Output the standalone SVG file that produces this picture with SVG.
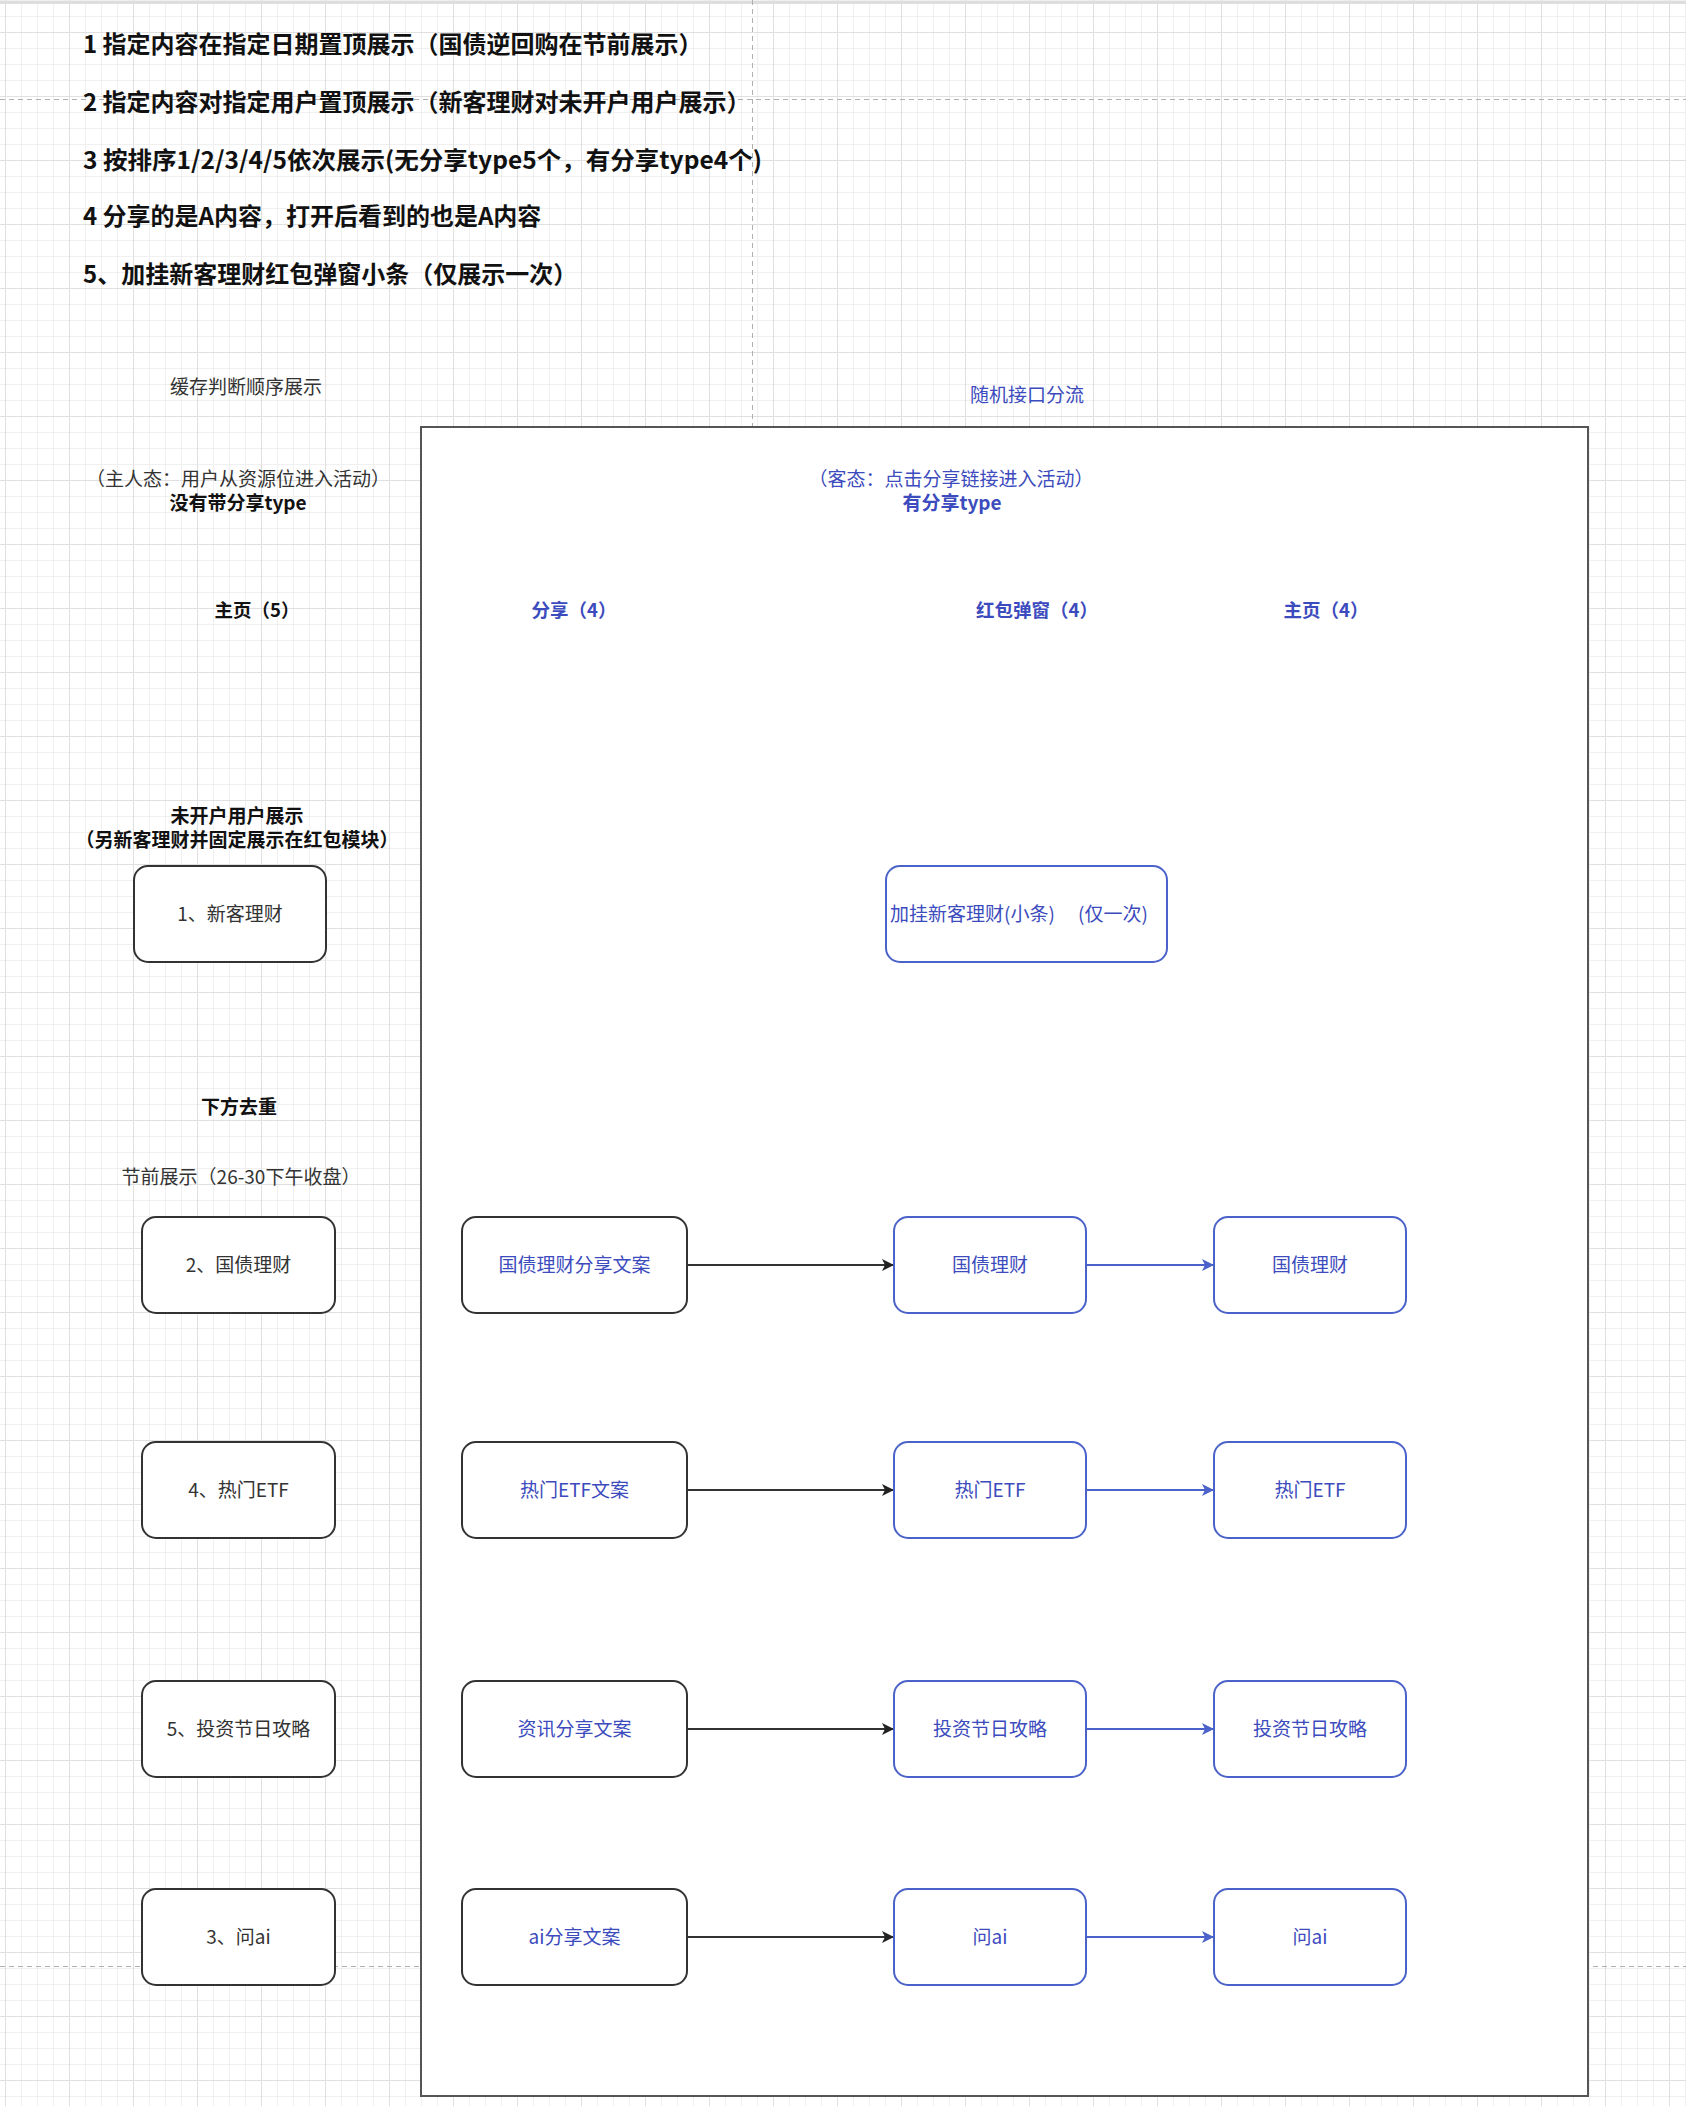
<svg xmlns="http://www.w3.org/2000/svg" width="1686" height="2106" viewBox="0 0 1686 2106">
<defs>
<pattern id="gMinor" x="5" y="0" width="16" height="16" patternUnits="userSpaceOnUse">
<path d="M0 0.5 H16 M0.5 0 V16" fill="none" stroke="#f0f0f0" stroke-width="1"/>
</pattern>
<pattern id="gMajor" x="5" y="32" width="64" height="64" patternUnits="userSpaceOnUse">
<path d="M0 0.5 H64 M0.5 0 V64" fill="none" stroke="#e0e0e0" stroke-width="1"/>
</pattern>
<marker id="arrK" viewBox="0 0 12 12" refX="11" refY="6" markerWidth="12" markerHeight="12" markerUnits="userSpaceOnUse" orient="auto">
<path d="M0 0 L12 6 L0 12 L3 6 Z" fill="#222"/>
</marker>
<marker id="arrB" viewBox="0 0 12 12" refX="11" refY="6" markerWidth="12" markerHeight="12" markerUnits="userSpaceOnUse" orient="auto">
<path d="M0 0 L12 6 L0 12 L3 6 Z" fill="#4a62c9"/>
</marker>
</defs>
<style>
text{font-family:"Noto Sans CJK SC","Noto Sans",sans-serif;dominant-baseline:central}
.t{font-size:24px;font-weight:700;fill:#111}
.s{font-size:19px;fill:#333;text-anchor:middle}
.sb{font-size:19px;font-weight:700;fill:#111;text-anchor:middle}
.h{font-size:18.5px;font-weight:700;fill:#111;text-anchor:middle}
.blue{fill:#3c4bbd}
.nk{fill:#fff;stroke:#333;stroke-width:2}
.nb{fill:#fff;stroke:#4a62c9;stroke-width:2}
.ek{stroke:#333;stroke-width:2;fill:none;marker-end:url(#arrK)}
.eb{stroke:#4a62c9;stroke-width:2;fill:none;marker-end:url(#arrB)}
.dash{stroke:#b0b0b0;stroke-width:1;stroke-dasharray:5 4;fill:none}
</style>
<rect width="1686" height="2106" fill="#fff"/>
<rect width="1686" height="2106" fill="url(#gMinor)"/>
<rect width="1686" height="2106" fill="url(#gMajor)"/>
<line x1="0" y1="2.5" x2="1686" y2="2.5" stroke="#dedede" stroke-width="3"/>
<g id="page-breaks">
<line class="dash" x1="0" y1="99.5" x2="1686" y2="99.5"/>
<line class="dash" x1="752.5" y1="0" x2="752.5" y2="427"/>
<line class="dash" x1="0" y1="1966.5" x2="1686" y2="1966.5"/>
</g>
<g id="notes">
<text class="t" x="83" y="42">1 指定内容在指定日期置顶展示（国债逆回购在节前展示）</text>
<text class="t" x="83" y="100">2 指定内容对指定用户置顶展示（新客理财对未开户用户展示）</text>
<text class="t" x="83" y="158" textLength="679" lengthAdjust="spacingAndGlyphs">3 按排序1/2/3/4/5依次展示(无分享type5个，有分享type4个)</text>
<text class="t" x="83" y="214">4 分享的是A内容，打开后看到的也是A内容</text>
<text class="t" x="83" y="272">5、加挂新客理财红包弹窗小条（仅展示一次）</text>
</g>
<g id="guest-container">
<rect x="421" y="427" width="1167" height="1669" fill="#fff" stroke="#555" stroke-width="2"/>
</g>
<g id="labels">
<text class="s" x="246" y="385">缓存判断顺序展示</text>
<text class="s blue" x="1027" y="393">随机接口分流</text>
<text class="s" x="238" y="477">（主人态：用户从资源位进入活动）</text>
<text class="sb" x="238" y="501">没有带分享type</text>
<text class="s blue" x="951" y="477">（客态：点击分享链接进入活动）</text>
<text class="sb blue" x="952" y="501">有分享type</text>
<text class="h" x="257" y="609">主页（5）</text>
<text class="h blue" x="574" y="609">分享（4）</text>
<text class="h blue" x="1037" y="609">红包弹窗（4）</text>
<text class="h blue" x="1326" y="609">主页（4）</text>
<text class="sb" x="237" y="814">未开户用户展示</text>
<text class="sb" x="237" y="838">（另新客理财并固定展示在红包模块）</text>
<text class="sb" x="239" y="1105">下方去重</text>
<text class="s" x="241" y="1175">节前展示（26-30下午收盘）</text>
</g>
<g id="edges">
<line class="ek" x1="687" y1="1265" x2="893" y2="1265"/>
<line class="ek" x1="687" y1="1490" x2="893" y2="1490"/>
<line class="ek" x1="687" y1="1729" x2="893" y2="1729"/>
<line class="ek" x1="687" y1="1937" x2="893" y2="1937"/>
<line class="eb" x1="1086" y1="1265" x2="1213" y2="1265"/>
<line class="eb" x1="1086" y1="1490" x2="1213" y2="1490"/>
<line class="eb" x1="1086" y1="1729" x2="1213" y2="1729"/>
<line class="eb" x1="1086" y1="1937" x2="1213" y2="1937"/>
</g>
<g id="n-new">
<rect class="nk" x="134" y="866" width="192" height="96" rx="14"/>
<text class="s" x="230" y="912">1、新客理财</text>
</g>
<g id="n-new-strip">
<rect class="nb" x="886" y="866" width="281" height="96" rx="14"/>
<text class="s blue" x="1019" y="912">加挂新客理财(小条)　 (仅一次)</text>
</g>
<g id="n-home-bond">
<rect class="nk" x="142" y="1217" width="193" height="96" rx="14"/>
<text class="s" x="238.5" y="1263">2、国债理财</text>
</g>
<g id="n-home-etf">
<rect class="nk" x="142" y="1442" width="193" height="96" rx="14"/>
<text class="s" x="238.5" y="1488">4、热门ETF</text>
</g>
<g id="n-home-guide">
<rect class="nk" x="142" y="1681" width="193" height="96" rx="14"/>
<text class="s" x="238.5" y="1727">5、投资节日攻略</text>
</g>
<g id="n-home-ai">
<rect class="nk" x="142" y="1889" width="193" height="96" rx="14"/>
<text class="s" x="238.5" y="1935">3、问ai</text>
</g>
<g id="n-share-bond">
<rect class="nk" x="462" y="1217" width="225" height="96" rx="14"/>
<text class="s blue" x="574.5" y="1263">国债理财分享文案</text>
</g>
<g id="n-share-etf">
<rect class="nk" x="462" y="1442" width="225" height="96" rx="14"/>
<text class="s blue" x="574.5" y="1488">热门ETF文案</text>
</g>
<g id="n-share-news">
<rect class="nk" x="462" y="1681" width="225" height="96" rx="14"/>
<text class="s blue" x="574.5" y="1727">资讯分享文案</text>
</g>
<g id="n-share-ai">
<rect class="nk" x="462" y="1889" width="225" height="96" rx="14"/>
<text class="s blue" x="574.5" y="1935">ai分享文案</text>
</g>
<g id="n-pop-bond">
<rect class="nb" x="894" y="1217" width="192" height="96" rx="14"/>
<text class="s blue" x="990" y="1263">国债理财</text>
</g>
<g id="n-pop-etf">
<rect class="nb" x="894" y="1442" width="192" height="96" rx="14"/>
<text class="s blue" x="990" y="1488">热门ETF</text>
</g>
<g id="n-pop-guide">
<rect class="nb" x="894" y="1681" width="192" height="96" rx="14"/>
<text class="s blue" x="990" y="1727">投资节日攻略</text>
</g>
<g id="n-pop-ai">
<rect class="nb" x="894" y="1889" width="192" height="96" rx="14"/>
<text class="s blue" x="990" y="1935">问ai</text>
</g>
<g id="n-main-bond">
<rect class="nb" x="1214" y="1217" width="192" height="96" rx="14"/>
<text class="s blue" x="1310" y="1263">国债理财</text>
</g>
<g id="n-main-etf">
<rect class="nb" x="1214" y="1442" width="192" height="96" rx="14"/>
<text class="s blue" x="1310" y="1488">热门ETF</text>
</g>
<g id="n-main-guide">
<rect class="nb" x="1214" y="1681" width="192" height="96" rx="14"/>
<text class="s blue" x="1310" y="1727">投资节日攻略</text>
</g>
<g id="n-main-ai">
<rect class="nb" x="1214" y="1889" width="192" height="96" rx="14"/>
<text class="s blue" x="1310" y="1935">问ai</text>
</g>
</svg>
